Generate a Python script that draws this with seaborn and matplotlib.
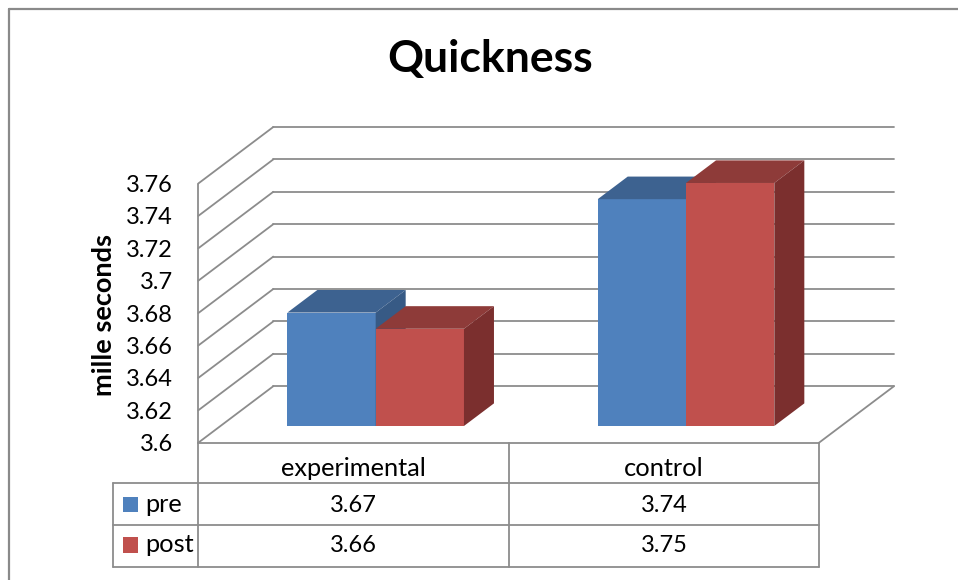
import numpy as np
import pandas as pd
import matplotlib
matplotlib.use("Agg")
import matplotlib.pyplot as plt
import matplotlib.colors as mcolors
import seaborn as sns
from matplotlib.patches import Polygon, Rectangle
from matplotlib.lines import Line2D

# ---- data -------------------------------------------------------------
groups = ["experimental", "control"]
phases = ["pre", "post"]
pre_values = [3.67, 3.74]
post_values = [3.66, 3.75]
y_ticks = [3.6, 3.62, 3.64, 3.66, 3.68, 3.7, 3.72, 3.74, 3.76]
y_tick_labels = ["3.6", "3.62", "3.64", "3.66", "3.68", "3.7", "3.72", "3.74", "3.76"]
title = "Quickness"
y_label = "mille seconds"

# ---- style ------------------------------------------------------------
face_colors = {"pre": "#4F81BD", "post": "#C0504D"}
top_colors = {"pre": "#3D6290", "post": "#8E3B39"}
side_colors = {"pre": "#375A85", "post": "#7B2F2E"}
grid_color = "#8C8C8C"
table_color = "#8C8C8C"

df = pd.DataFrame({
    "group": groups * 2,
    "phase": ["pre"] * len(groups) + ["post"] * len(groups),
    "value": pre_values + post_values,
})

sns.set_theme(style="white")
plt.rcParams["font.family"] = ["Lato", "DejaVu Sans"]

W, H = 958, 580
fig = plt.figure(figsize=(W / 100, H / 100), dpi=100)
fig.patch.set_facecolor("white")

# pixel geometry of the pseudo-3D box
x0_px, floor_px = 198.3, 442.7       # front-left corner of the floor
slot_px = 310.35                      # width of one category slot
step_px = 32.4                        # pixels per 0.02 on the value axis
depth_dx_px, depth_dy_px = 75.0, 56.5 # front-to-back wall offset
right_px = x0_px + 2 * slot_px + depth_dx_px
top_px = 126.0

base = y_ticks[0]
unit = 0.02 / step_px

ax = fig.add_axes([x0_px / W, 1 - floor_px / H,
                   (right_px - x0_px) / W, (floor_px - top_px) / H])
ax.set_facecolor("none")

sns.barplot(data=df, x="group", y="value", hue="phase", order=groups,
            hue_order=phases, palette=face_colors, saturation=1,
            width=0.569, gap=0, legend=False, linewidth=0, ax=ax)

xmin = -0.5
xmax = xmin + (right_px - x0_px) / slot_px
ax.set_xlim(xmin, xmax)
ax.set_ylim(base, base + (floor_px - top_px) * unit)

Dx = depth_dx_px / slot_px
Dy = depth_dy_px * unit
f0, f1 = 0.296, 0.696   # front and back depth of the columns
right_floor = xmin + len(groups)

# back wall gridlines and left wall diagonals
for v in y_ticks:
    ax.add_line(Line2D([xmin + Dx, right_floor + Dx], [v + Dy, v + Dy],
                       color=grid_color, lw=1.3, zorder=1, clip_on=False))
    ax.add_line(Line2D([xmin, xmin + Dx], [v, v + Dy],
                       color=grid_color, lw=1.3, zorder=1, clip_on=False))
# floor right edge
ax.add_line(Line2D([right_floor, right_floor + Dx], [base, base + Dy],
                   color=grid_color, lw=1.3, zorder=1, clip_on=False))
# front value axis
ax.add_line(Line2D([xmin, xmin], [base, y_ticks[-1]],
                   color=grid_color, lw=1.3, zorder=1, clip_on=False))

# turn the flat bars into columns with top and side faces
pre_rgba = mcolors.to_rgba(face_colors["pre"])
bars = sorted(ax.patches, key=lambda p: p.get_x())
for rank, p in enumerate(bars):
    phase = "pre" if np.allclose(p.get_facecolor(), pre_rgba) else "post"
    x, w, v = p.get_x(), p.get_width(), p.get_height()
    z = 3 + rank
    p.set_x(x + f0 * Dx)
    p.set_y(base + f0 * Dy)
    p.set_height(v - base)
    p.set_zorder(z)
    p.set_clip_on(False)
    xl, xr = x + f0 * Dx, x + w + f0 * Dx
    top = Polygon([(xl, v + f0 * Dy), (xr, v + f0 * Dy),
                   (x + w + f1 * Dx, v + f1 * Dy), (x + f1 * Dx, v + f1 * Dy)],
                  closed=True, facecolor=top_colors[phase], edgecolor="none",
                  zorder=z, clip_on=False)
    side = Polygon([(xr, base + f0 * Dy), (x + w + f1 * Dx, base + f1 * Dy),
                    (x + w + f1 * Dx, v + f1 * Dy), (xr, v + f0 * Dy)],
                   closed=True, facecolor=side_colors[phase], edgecolor="none",
                   zorder=z, clip_on=False)
    ax.add_patch(top)
    ax.add_patch(side)

ax.set_yticks(y_ticks)
ax.set_yticklabels(y_tick_labels)
ax.tick_params(axis="y", length=0, pad=18.4, labelsize=17, labelcolor="black")
ax.set_xticks([])
ax.set_xlabel("")
ax.set_ylabel("")
for s in ax.spines.values():
    s.set_visible(False)

# ---- overlay in pixel coordinates: title, label, data table, border ----
ov = fig.add_axes([0, 0, 1, 1], zorder=10)
ov.set_xlim(0, W)
ov.set_ylim(H, 0)
ov.axis("off")
ov.set_facecolor("none")

ov.text(490.4, 72, title, ha="center", va="baseline", fontsize=32,
        fontweight="bold", color="black")
ov.text(104, 315, y_label, ha="center", va="center", rotation=90,
        fontsize=19.5, fontweight="bold", color="black")

# outer chart border (top and left)
ov.add_line(Line2D([9.3, W], [8.5, 8.5], color="#8A8A8A", lw=1.6))
ov.add_line(Line2D([9.3, 9.3], [8.5, H], color="#8A8A8A", lw=1.6))

tbl_left, tbl_col, tbl_mid, tbl_right = 113.3, x0_px, 509.3, 819.0
row_y = [floor_px, 483.3, 525.3, 566.7]
lw_t = 1.3
ov.add_line(Line2D([tbl_col, tbl_right], [row_y[0], row_y[0]], color=table_color, lw=lw_t))
for yy in row_y[1:]:
    ov.add_line(Line2D([tbl_left, tbl_right], [yy, yy], color=table_color, lw=lw_t))
for xx in (tbl_col, tbl_mid, tbl_right):
    ov.add_line(Line2D([xx, xx], [row_y[0], row_y[-1]], color=table_color, lw=lw_t))
ov.add_line(Line2D([tbl_left, tbl_left], [row_y[1], row_y[-1]], color=table_color, lw=lw_t))

col_centers = [(tbl_col + tbl_mid) / 2, (tbl_mid + tbl_right) / 2]
for cx, g in zip(col_centers, groups):
    ov.text(cx, 475.5, g, ha="center", va="baseline", fontsize=18.3, color="black")

row_series = {"pre": pre_values, "post": post_values}
row_baselines = [511.8, 552.5]
for yb, ph in zip(row_baselines, phases):
    ov.add_patch(Rectangle((122.7, yb - 15.2), 15.6, 15.2,
                           facecolor=face_colors[ph], edgecolor="none"))
    ov.text(145, yb, ph, ha="left", va="baseline", fontsize=18.3, color="black")
    for cx, val in zip(col_centers, row_series[ph]):
        ov.text(cx, yb, f"{val:.2f}", ha="center", va="baseline",
                fontsize=17, color="black")

fig.savefig("out.png", dpi=100, facecolor="white")
